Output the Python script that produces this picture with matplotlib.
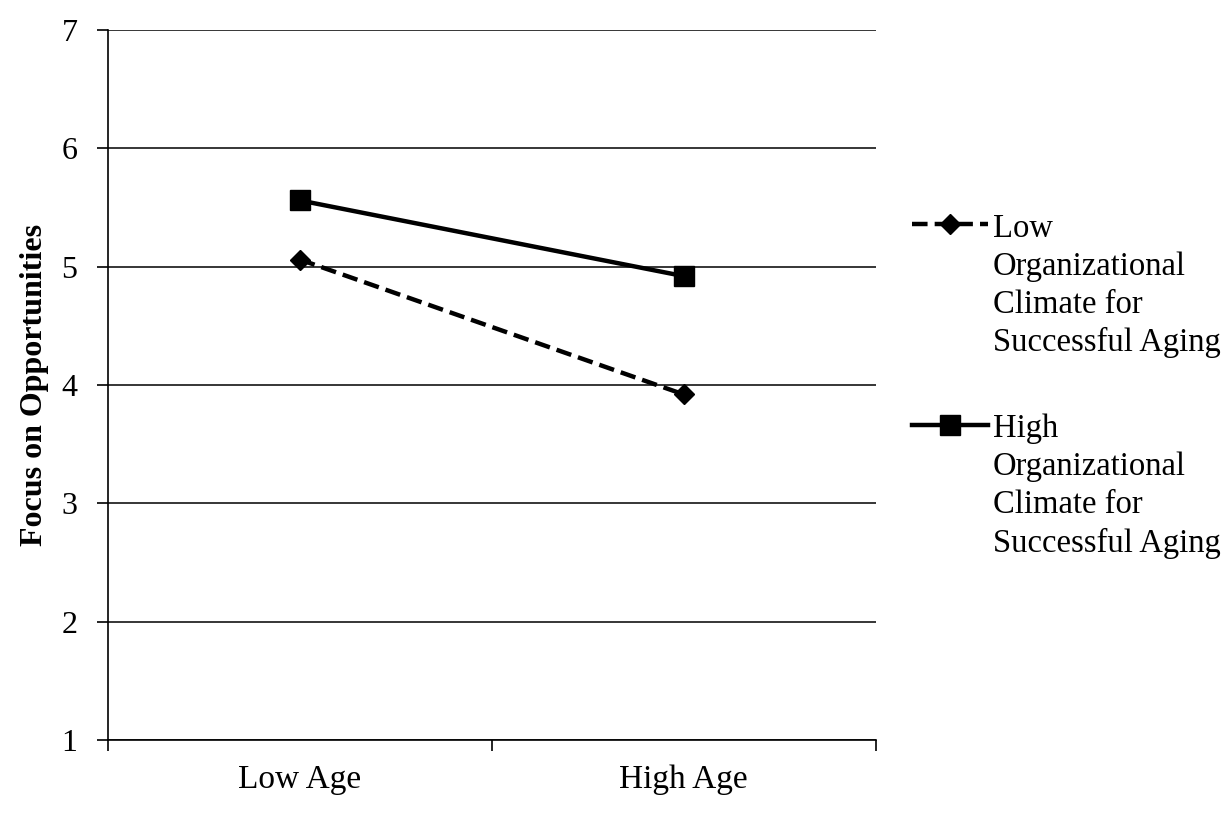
import matplotlib
matplotlib.use('Agg')
import matplotlib.pyplot as plt

# values
groups = ['Low Age', 'High Age']
low_climate = [5.06, 3.92]
high_climate = [5.56, 4.92]
series_names = ['Low\nOrganizational\nClimate for\nSuccessful Aging',
                'High\nOrganizational\nClimate for\nSuccessful Aging']

plt.rcParams['font.family'] = ['Liberation Serif', 'DejaVu Serif']

fig = plt.figure(figsize=(12.28, 8.13), dpi=100)
ax = fig.add_axes([0.088, 0.09, 0.625, 0.873])

xpos = [0.5, 1.5]
ax.plot(xpos, low_climate, color='black', lw=3.2, ls=(0, (3.5, 1.6)),
        marker='D', ms=10, label=series_names[0])
ax.plot(xpos, high_climate, color='black', lw=3.2, ls='-',
        marker='s', ms=15, label=series_names[1])

ax.set_xlim(0, 2)
ax.set_ylim(1, 7)
ax.set_yticks(range(1, 8))
ax.set_xticks([0, 1, 2])
ax.set_xticklabels([])
ax.set_xticks(xpos, minor=True)
ax.set_xticklabels(groups, minor=True)
ax.tick_params(axis='x', which='minor', length=0, pad=18, labelsize=24)
ax.tick_params(axis='x', which='major', length=8, width=1.2, direction='out')
ax.tick_params(axis='y', length=8, width=1.2, direction='out', pad=14, labelsize=23)

ax.yaxis.grid(True, color='black', lw=1.1)
ax.set_axisbelow(True)
for s in ['top', 'right']:
    ax.spines[s].set_visible(False)
ax.spines['left'].set_linewidth(1.2)
ax.spines['bottom'].set_linewidth(1.2)

ax.set_ylabel('Focus on Opportunities', fontsize=23, fontweight='bold', labelpad=9)

leg = ax.legend(loc='upper left', bbox_to_anchor=(0.7427, 0.738), bbox_transform=fig.transFigure,
                frameon=False, fontsize=23.5, handlelength=2.33, handletextpad=0.15,
                labelspacing=1.69, borderpad=0, borderaxespad=0)
for t in leg.get_texts():
    t.set_linespacing(1.32)
for col in leg._legend_handle_box.get_children():
    for item in col.get_children():
        item.align = 'top'

fig.savefig('out.png', dpi=100)
